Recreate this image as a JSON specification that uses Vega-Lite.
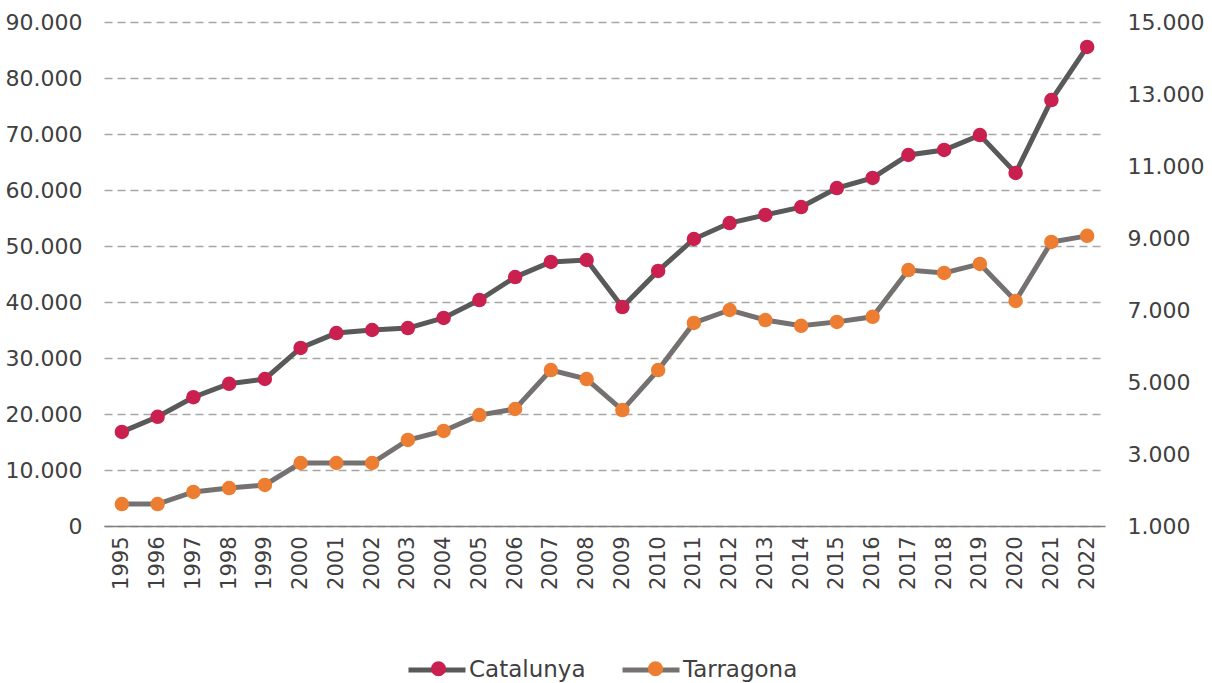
{
  "$schema": "https://vega.github.io/schema/vega-lite/v6.json",
  "width": 1001,
  "height": 504,
  "autosize": {"type": "none"},
  "padding": {"left": 104, "top": 22, "right": 107, "bottom": 157},
  "background": "white",
  "config": {
    "view": {"stroke": null},
    "font": "DejaVu Sans",
    "axis": {"labelColor": "#404040", "labelFontSize": 22, "title": null, "ticks": false, "domain": false, "labelFont": "DejaVu Sans"},
    "legend": {"labelFontSize": 23, "labelColor": "#404040", "labelFont": "DejaVu Sans", "padding": 0}
  },
  "data": {
    "values": [
      {"year": "1995", "series": "Catalunya", "value": 16800},
      {"year": "1996", "series": "Catalunya", "value": 19500},
      {"year": "1997", "series": "Catalunya", "value": 23000},
      {"year": "1998", "series": "Catalunya", "value": 25400},
      {"year": "1999", "series": "Catalunya", "value": 26250},
      {"year": "2000", "series": "Catalunya", "value": 31800},
      {"year": "2001", "series": "Catalunya", "value": 34450},
      {"year": "2002", "series": "Catalunya", "value": 35000},
      {"year": "2003", "series": "Catalunya", "value": 35350},
      {"year": "2004", "series": "Catalunya", "value": 37150},
      {"year": "2005", "series": "Catalunya", "value": 40350},
      {"year": "2006", "series": "Catalunya", "value": 44450},
      {"year": "2007", "series": "Catalunya", "value": 47150},
      {"year": "2008", "series": "Catalunya", "value": 47500},
      {"year": "2009", "series": "Catalunya", "value": 39100},
      {"year": "2010", "series": "Catalunya", "value": 45550},
      {"year": "2011", "series": "Catalunya", "value": 51250},
      {"year": "2012", "series": "Catalunya", "value": 54100},
      {"year": "2013", "series": "Catalunya", "value": 55550},
      {"year": "2014", "series": "Catalunya", "value": 56950},
      {"year": "2015", "series": "Catalunya", "value": 60350},
      {"year": "2016", "series": "Catalunya", "value": 62150},
      {"year": "2017", "series": "Catalunya", "value": 66250},
      {"year": "2018", "series": "Catalunya", "value": 67150},
      {"year": "2019", "series": "Catalunya", "value": 69800},
      {"year": "2020", "series": "Catalunya", "value": 63050},
      {"year": "2021", "series": "Catalunya", "value": 76050},
      {"year": "2022", "series": "Catalunya", "value": 85550},
      {"year": "1995", "series": "Tarragona", "value": 1610},
      {"year": "1996", "series": "Tarragona", "value": 1610},
      {"year": "1997", "series": "Tarragona", "value": 1945},
      {"year": "1998", "series": "Tarragona", "value": 2055},
      {"year": "1999", "series": "Tarragona", "value": 2140},
      {"year": "2000", "series": "Tarragona", "value": 2750},
      {"year": "2001", "series": "Tarragona", "value": 2750},
      {"year": "2002", "series": "Tarragona", "value": 2750},
      {"year": "2003", "series": "Tarragona", "value": 3390},
      {"year": "2004", "series": "Tarragona", "value": 3640},
      {"year": "2005", "series": "Tarragona", "value": 4080},
      {"year": "2006", "series": "Tarragona", "value": 4250},
      {"year": "2007", "series": "Tarragona", "value": 5330},
      {"year": "2008", "series": "Tarragona", "value": 5080},
      {"year": "2009", "series": "Tarragona", "value": 4220},
      {"year": "2010", "series": "Tarragona", "value": 5330},
      {"year": "2011", "series": "Tarragona", "value": 6640},
      {"year": "2012", "series": "Tarragona", "value": 7000},
      {"year": "2013", "series": "Tarragona", "value": 6720},
      {"year": "2014", "series": "Tarragona", "value": 6560},
      {"year": "2015", "series": "Tarragona", "value": 6670},
      {"year": "2016", "series": "Tarragona", "value": 6810},
      {"year": "2017", "series": "Tarragona", "value": 8110},
      {"year": "2018", "series": "Tarragona", "value": 8030},
      {"year": "2019", "series": "Tarragona", "value": 8280},
      {"year": "2020", "series": "Tarragona", "value": 7250},
      {"year": "2021", "series": "Tarragona", "value": 8890},
      {"year": "2022", "series": "Tarragona", "value": 9060}
    ]
  },
  "encoding": {
    "x": {
      "field": "year",
      "type": "ordinal",
      "scale": {"type": "point", "padding": 0.5},
      "axis": {"labelAngle": -90, "labelPadding": 10, "labelFontSize": 21, "domain": true, "domainColor": "#808080", "domainWidth": 1.5, "grid": false, "labelBaseline": "middle", "labelAlign": "right"}
    }
  },
  "layer": [
    {
      "transform": [{"filter": "datum.series === 'Catalunya'"}],
      "encoding": {
        "y": {
          "field": "value",
          "type": "quantitative",
          "scale": {"domain": [0, 90000], "nice": false, "zero": false},
          "axis": {
            "orient": "left",
            "values": [0, 10000, 20000, 30000, 40000, 50000, 60000, 70000, 80000, 90000],
            "labelExpr": "replace(format(datum.value, ','), ',', '.')",
            "labelPadding": 22,
            "labelFontSize": 22,
            "grid": true,
            "gridColor": "#a6a6a6",
            "gridWidth": 1.5,
            "gridDash": [8, 5]
          }
        }
      },
      "layer": [
        {
          "mark": {"type": "line", "strokeWidth": 5},
          "encoding": {
            "stroke": {
              "field": "series",
              "type": "nominal",
              "scale": {"range": ["#595959", "#767171"]},
              "legend": {
                "orient": "none",
                "legendX": 302,
                "legendY": 617,
                "direction": "horizontal",
                "title": null,
                "symbolType": "stroke",
                "symbolSize": 3249,
                "symbolStrokeWidth": 5,
                "columnPadding": 26,
                "labelOffset": 1,
                "labelFontSize": 23,
                "zindex": 0
              }
            }
          }
        },
        {
          "mark": {"type": "circle", "size": 210, "opacity": 1},
          "encoding": {
            "fill": {
              "field": "series",
              "type": "nominal",
              "scale": {"domain": ["Catalunya", "Tarragona"], "range": ["#C9204F", "#ED7D31"]},
              "legend": {
                "orient": "none",
                "legendX": 323,
                "legendY": 635,
                "direction": "horizontal",
                "title": null,
                "symbolType": "circle",
                "symbolSize": 230,
                "symbolStrokeWidth": 0,
                "columnPadding": 194,
                "labelOffset": 0,
                "labelExpr": "''",
                "labelFontSize": 23,
                "zindex": 1
              }
            }
          }
        }
      ]
    },
    {
      "transform": [{"filter": "datum.series === 'Tarragona'"}],
      "encoding": {
        "y": {
          "field": "value",
          "type": "quantitative",
          "scale": {"domain": [1000, 15000], "nice": false, "zero": false},
          "axis": {
            "orient": "right",
            "values": [1000, 3000, 5000, 7000, 9000, 11000, 13000, 15000],
            "labelExpr": "replace(format(datum.value, ','), ',', '.')",
            "labelPadding": 22,
            "labelFontSize": 22,
            "grid": false
          }
        }
      },
      "layer": [
        {
          "mark": {"type": "line", "strokeWidth": 5},
          "encoding": {
            "stroke": {
              "field": "series",
              "type": "nominal",
              "scale": {"range": ["#595959", "#767171"]}
            }
          }
        },
        {
          "mark": {"type": "circle", "size": 210, "opacity": 1},
          "encoding": {
            "fill": {
              "field": "series",
              "type": "nominal",
              "scale": {"domain": ["Catalunya", "Tarragona"], "range": ["#C9204F", "#ED7D31"]}
            }
          }
        }
      ]
    }
  ],
  "resolve": {"scale": {"y": "independent"}}
}
